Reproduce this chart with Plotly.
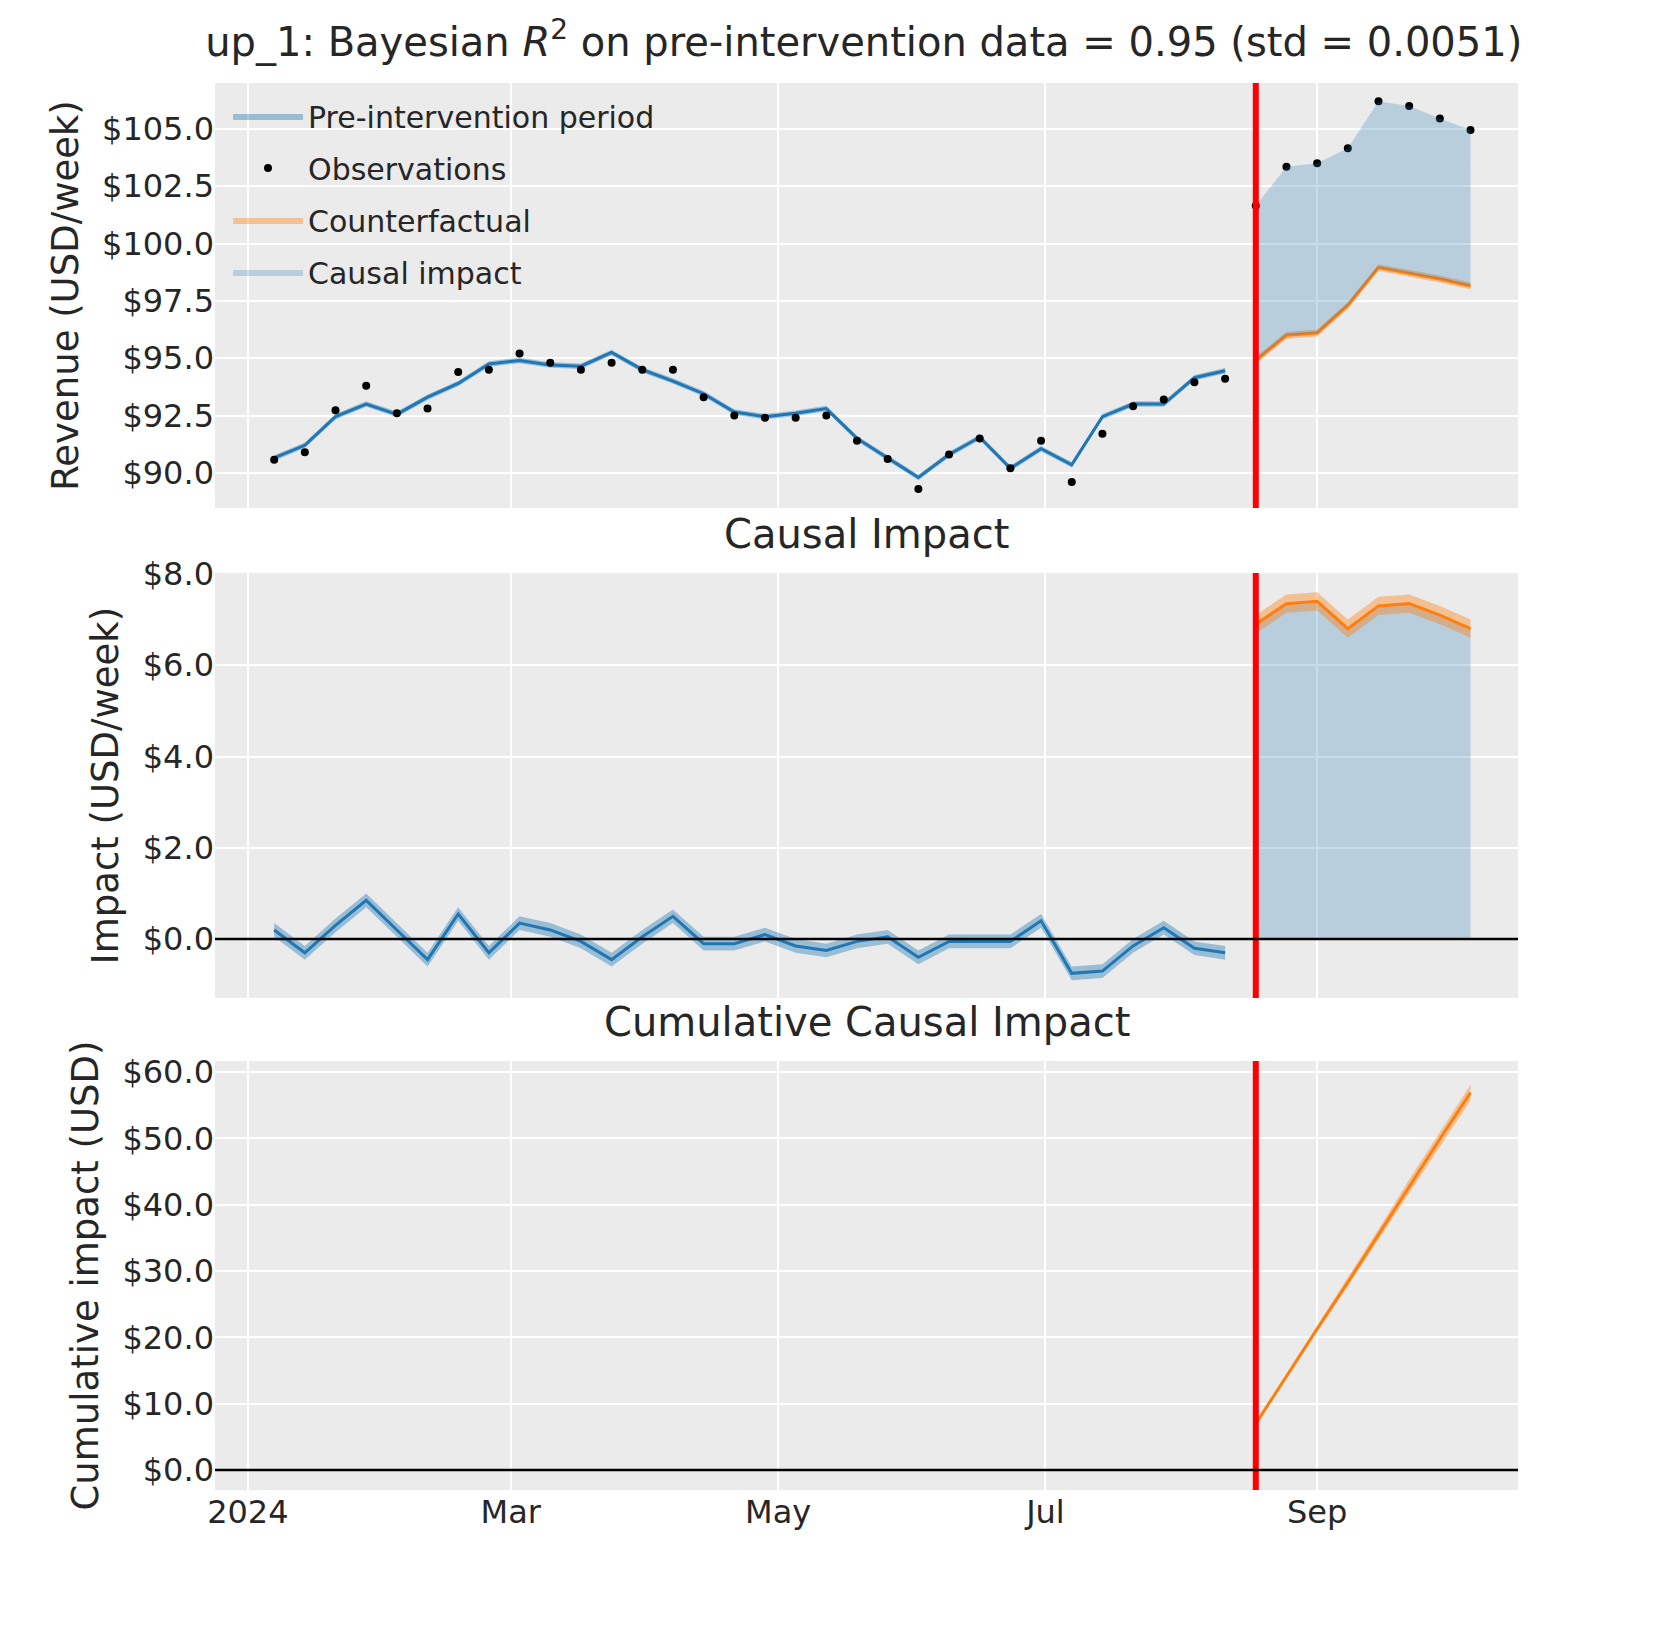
import numpy as np
import pandas as pd
import plotly.graph_objects as go

# weekly data, first week 2024-01-07, intervention on 2024-08-18
dates = pd.date_range("2024-01-07", periods=40, freq="7D")
pre_dates = dates[:32]
post_dates = dates[32:]
intervention = "2024-08-18"

obs_pre = [90.57, 90.9, 92.73, 93.8, 92.6, 92.8, 94.4, 94.5, 95.2, 94.8, 94.5, 94.8,
           94.5, 94.5, 93.3, 92.5, 92.4, 92.4, 92.5, 91.4, 90.6, 89.3, 90.8, 91.5,
           90.2, 91.4, 89.6, 91.7, 92.9, 93.2, 93.95, 94.1]
obs_post = [101.65, 103.35, 103.5, 104.15, 106.2, 106.0, 105.45, 104.95]

fit_pre = [90.65, 91.2, 92.45, 93.0, 92.55, 93.3, 93.9, 94.75, 94.9, 94.7, 94.65, 95.25,
           94.5, 94.0, 93.45, 92.65, 92.45, 92.6, 92.8, 91.5, 90.65, 89.8, 90.8, 91.55,
           90.2, 91.05, 90.35, 92.45, 93.0, 93.0, 94.15, 94.45]
counterfactual = [94.9, 96.0, 96.1, 97.3, 98.95, 98.7, 98.45, 98.15]

impact_pre = [0.2, -0.3, 0.3, 0.85, 0.2, -0.45, 0.55, -0.3, 0.35, 0.2, -0.05, -0.45,
              0.05, 0.5, -0.1, -0.1, 0.1, -0.15, -0.25, -0.05, 0.05, -0.4, -0.05, -0.05,
              -0.05, 0.4, -0.75, -0.7, -0.15, 0.25, -0.2, -0.3]
impact_post = [6.9, 7.35, 7.4, 6.8, 7.3, 7.35, 7.1, 6.8]
cum_post = [7.0, 14.2, 21.3, 28.3, 35.5, 42.8, 49.9, 56.9]

# half widths of the HDI bands
band_fit = 0.12
band_cf = 0.15
band_cum = [0.2, 0.4, 0.5, 0.7, 0.8, 1.0, 1.1, 1.2]

BLUE = "#1f77b4"
ORANGE = "#ff7f0e"
BLUE_BAND = "rgba(31,119,180,0.4)"
ORANGE_BAND = "rgba(255,127,14,0.4)"
IMPACT_FILL = "rgba(31,119,180,0.25)"
BG = "#ebebeb"

fig = go.Figure()


def band(x, lo, hi, color, yaxis, name=None, show=False, group=None):
    x = list(x)
    fig.add_trace(go.Scatter(x=x + x[::-1], y=list(lo) + list(hi)[::-1], fill="toself",
                             fillcolor=color, line=dict(width=0), mode="lines",
                             xaxis="x", yaxis=yaxis, name=name, showlegend=show,
                             legendgroup=group, hoverinfo="skip"))


def line(x, y, color, yaxis, width=3, name=None, show=False, group=None):
    fig.add_trace(go.Scatter(x=list(x), y=list(y), mode="lines", line=dict(color=color, width=width),
                             xaxis="x", yaxis=yaxis, name=name, showlegend=show, legendgroup=group))


fp = np.array(fit_pre)
cf = np.array(counterfactual)
ip = np.array(impact_pre)
io = np.array(impact_post)
cp = np.array(cum_post)
bc = np.array(band_cum)

# top panel
band(pre_dates, fp - band_fit, fp + band_fit, BLUE_BAND, "y", "Pre-intervention period", True, "pre")
line(pre_dates, fp, BLUE, "y", group="pre")
fig.add_trace(go.Scatter(x=list(dates), y=obs_pre + obs_post, mode="markers",
                         marker=dict(color="black", size=8), name="Observations",
                         xaxis="x", yaxis="y"))
band(post_dates, cf - band_cf, cf + band_cf, ORANGE_BAND, "y", "Counterfactual", True, "cf")
line(post_dates, cf, ORANGE, "y", group="cf")
band(post_dates, cf, obs_post, IMPACT_FILL, "y", "Causal impact", True, "ci")

# middle panel
band(pre_dates, ip - 0.15, ip + 0.15, BLUE_BAND, "y2")
line(pre_dates, ip, BLUE, "y2")
band(post_dates, np.zeros(len(io)), io, IMPACT_FILL, "y2")
band(post_dates, io - 0.2, io + 0.2, ORANGE_BAND, "y2")
line(post_dates, io, ORANGE, "y2")

# bottom panel
band(post_dates, cp - bc, cp + bc, ORANGE_BAND, "y3")
line(post_dates, cp, ORANGE, "y3")

shapes = []
for ax in ["y", "y2", "y3"]:
    shapes.append(dict(type="line", xref="x", yref=ax + " domain", x0=intervention, x1=intervention,
                       y0=0, y1=1, line=dict(color="red", width=6)))
for ax in ["y2", "y3"]:
    shapes.append(dict(type="line", xref="x domain", yref=ax, x0=0, x1=1, y0=0, y1=0,
                       line=dict(color="black", width=2.5)))

tick_font = dict(size=32, color="#262626")
yax = dict(showgrid=True, gridcolor="white", gridwidth=1.5, zeroline=False, tickprefix="$",
           tickformat=".1f", tickfont=tick_font, ticks="", title_standoff=12,
           title_font=dict(size=37, color="#262626"))

fig.update_layout(
    width=1665, height=1643, plot_bgcolor=BG, paper_bgcolor="white",
    font=dict(family="DejaVu Sans", color="#262626"),
    margin=dict(l=207, r=155, t=75, b=161),
    title=dict(text="up_1: Bayesian <i>R</i><sup>2</sup> on pre-intervention data = 0.95 (std = 0.0051)",
               x=0.514, xanchor="center", y=0.988, yanchor="top", font=dict(size=40)),
    xaxis=dict(anchor="y3", range=["2023-12-24 12:00", "2024-10-16 20:00"], showgrid=True,
               gridcolor="white", gridwidth=1.5, zeroline=False,
               tickvals=["2024-01-01", "2024-03-01", "2024-05-01", "2024-07-01", "2024-09-01"],
               ticktext=["2024", "Mar", "May", "Jul", "Sep"], tickfont=tick_font),
    yaxis=dict(yax, domain=[0.698, 1.0], range=[88.47, 107.0], dtick=2.5, tick0=90,
               title_text="Revenue (USD/week)"),
    yaxis2=dict(yax, domain=[0.3497, 0.6517], range=[-1.29, 8.02], dtick=2, tick0=0,
                title_text="Impact (USD/week)"),
    yaxis3=dict(yax, domain=[0, 0.3049], range=[-3.0, 61.66], dtick=10, tick0=0,
                title_text="Cumulative impact (USD)"),
    shapes=shapes,
    legend=dict(x=0.01, y=0.995, xanchor="left", yanchor="top", bgcolor="rgba(0,0,0,0)",
                font=dict(size=30), itemwidth=70, tracegroupgap=10),
    annotations=[
        dict(text="Causal Impact", xref="paper", yref="paper", x=0.5, y=0.662, showarrow=False,
             font=dict(size=40), yanchor="bottom"),
        dict(text="Cumulative Causal Impact", xref="paper", yref="paper", x=0.5, y=0.315,
             showarrow=False, font=dict(size=40), yanchor="bottom"),
    ],
)

fig.write_html("out.html")
